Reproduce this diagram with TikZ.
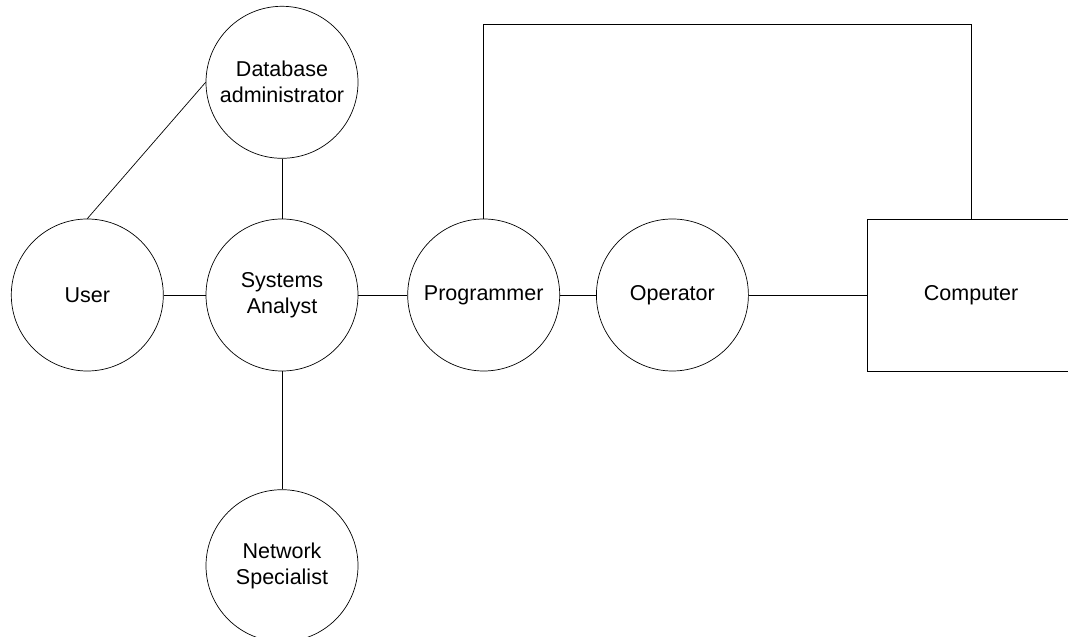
\documentclass[tikz,border=0pt]{standalone}
\usepackage{fontspec}
\setmainfont{Liberation Sans}
\usetikzlibrary{positioning,calc}

\begin{document}
\begin{tikzpicture}[
      role/.style={circle, draw, line width=0.7pt, minimum size=152pt,
         inner sep=0pt, align=center,
         font=\fontsize{21.5}{26}\selectfont},
      machine/.style={rectangle, draw, line width=0.7pt, minimum width=208pt,
         minimum height=152pt, inner sep=0pt,
         font=\fontsize{21.5}{26}\selectfont},
      link/.style={line width=0.7pt}]

   \useasboundingbox (0,0) rectangle (1068pt,637pt);

   % analyst in the middle
   \node[role] (sa) at (282pt,342pt) {Systems\\Analyst};

   \node[role, left=42pt of sa]   (user) {User};
   \node[role, above=60pt of sa]  (db)   {Database\\administrator};
   \node[role, below=118pt of sa] (net)  {Network\\Specialist};
   \node[role, right=49pt of sa]  (prog) {Programmer};
   \node[role, right=36pt of prog] (op)  {Operator};

   % computer box, cut by the page edge
   \node[machine, right=118pt of op] (comp) {Computer};

   \coordinate (top) at (0,613pt);

   \draw[link] (user) -- (sa);
   \draw[link] (sa) -- (prog);
   \draw[link] (prog) -- (op);
   \draw[link] (op) -- (comp);
   \draw[link] (db) -- (sa);
   \draw[link] (sa) -- (net);
   \draw[link] (user.north) -- (db.west);

   % programmer straight to the computer
   \draw[link] (prog.north) -- (prog.north |- top) -- (comp.north |- top)
      -- (comp.north);

\end{tikzpicture}
\end{document}
